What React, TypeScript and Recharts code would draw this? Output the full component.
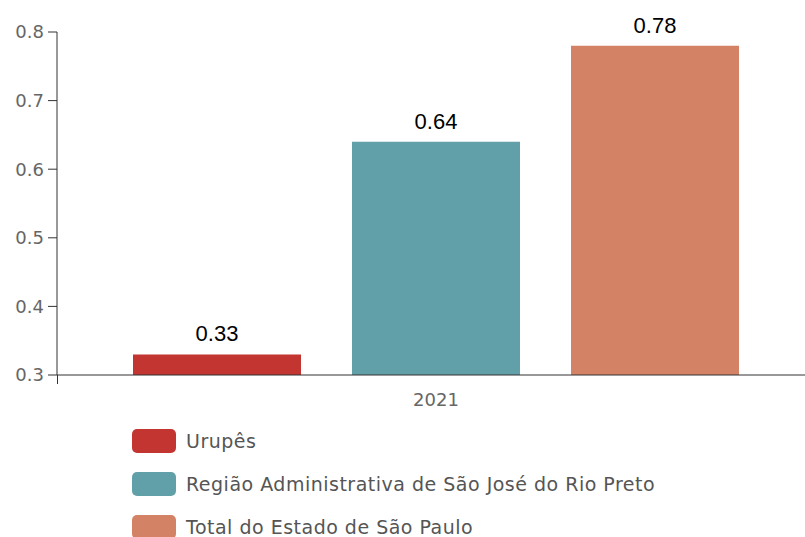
import { BarChart, Bar, XAxis, YAxis, LabelList } from 'recharts';

const categories = ['2021'];
const seriesNames = ['Urupês', 'Região Administrativa de São José do Rio Preto', 'Total do Estado de São Paulo'];
const urupes = [0.33];
const regiao = [0.64];
const estado = [0.78];
const yTicks = [0.3, 0.4, 0.5, 0.6, 0.7, 0.8];
const colors = ['#C23531', '#61A0A8', '#D48265'];

const data = categories.map((name, i) => ({
    name,
    urupes: urupes[i],
    regiao: regiao[i],
    estado: estado[i],
}));

const keys = ['urupes', 'regiao', 'estado'];

const ChartLegend = () => (
    <div style={{ position: 'absolute', left: 132, top: 419 }}>
        {seriesNames.map((name, i) => (
            <div key={name} style={{ display: 'flex', alignItems: 'center', height: 43 }}>
                <div
                    style={{
                        width: 44,
                        height: 24,
                        borderRadius: 5,
                        background: colors[i],
                        marginRight: 10,
                    }}
                />
                <span style={{ fontFamily: 'DejaVu Sans', fontSize: 19, letterSpacing: 0.5, color: '#555' }}>
                    {name}
                </span>
            </div>
        ))}
    </div>
);

export default function App() {
    return (
        <div style={{ position: 'absolute', left: 0, top: 0, width: 805, height: 537, overflow: 'hidden', background: '#fff' }}>
            <BarChart
                width={805}
                height={420}
                data={data}
                margin={{ top: 32, right: -10, left: 0, bottom: 0 }}
                barSize={168}
                barGap={51}
            >
                <XAxis
                    dataKey="name"
                    height={45}
                    tickLine={false}
                    axisLine={{ stroke: '#333' }}
                    tick={{ fill: '#666', fontSize: 18, fontFamily: 'DejaVu Sans' }}
                    tickMargin={12}
                />
                <YAxis
                    width={57}
                    domain={[0.3, 0.8]}
                    ticks={yTicks}
                    allowDataOverflow
                    tickSize={9}
                    tickMargin={4}
                    axisLine={{ stroke: '#333' }}
                    tickLine={{ stroke: '#333' }}
                    tick={{ fill: '#666', fontSize: 18, fontFamily: 'DejaVu Sans' }}
                />
                {keys.map((k, i) => (
                    <Bar key={k} dataKey={k} name={seriesNames[i]} fill={colors[i]} isAnimationActive={false}>
                        <LabelList
                            dataKey={k}
                            position="top"
                            offset={13}
                            fill="#000"
                            fontSize={22}
                            fontFamily="Liberation Sans"
                        />
                    </Bar>
                ))}
                {/* category boundary tick of the x axis */}
                <line x1={57.5} y1={375} x2={57.5} y2={384} stroke="#333" />
            </BarChart>
            <ChartLegend />
        </div>
    );
}
